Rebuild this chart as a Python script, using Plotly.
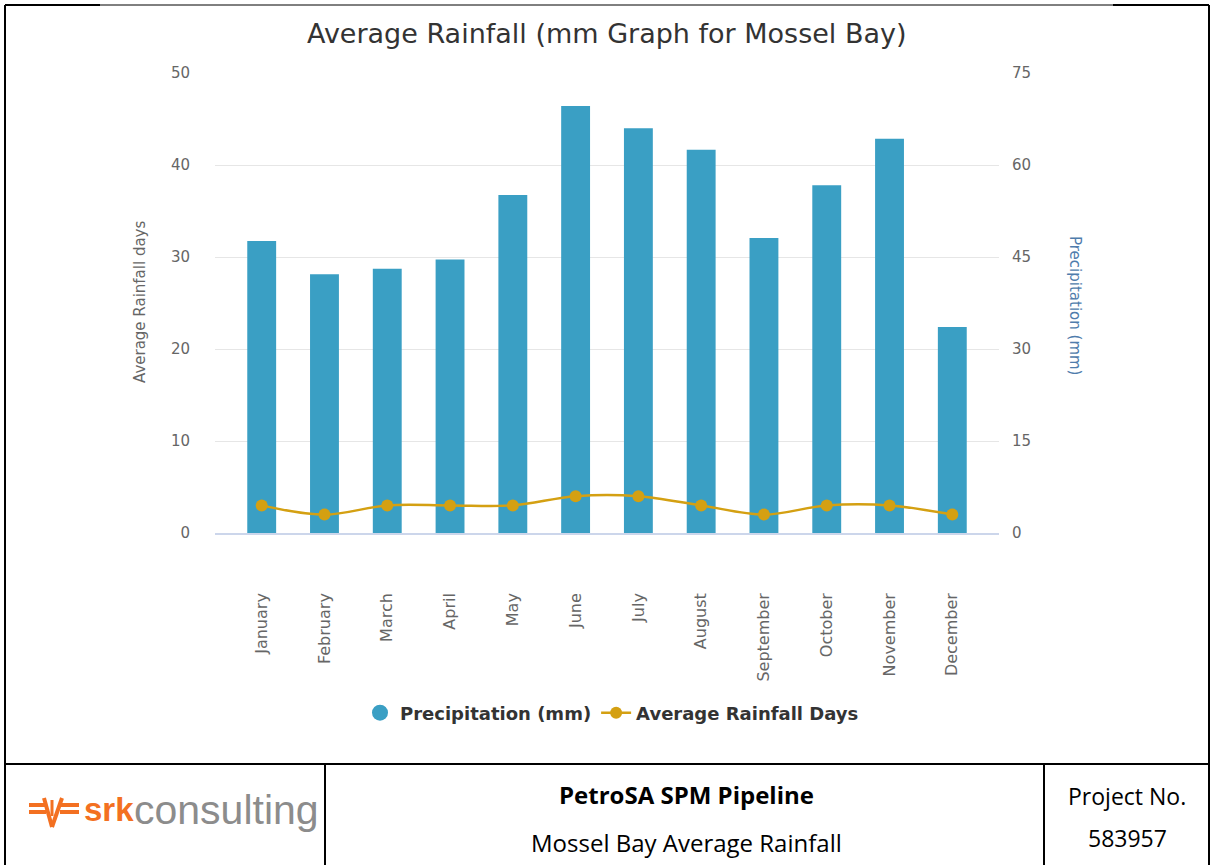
import plotly.graph_objects as go

# Monthly climate values for Mossel Bay
months = ["January", "February", "March", "April", "May", "June",
          "July", "August", "September", "October", "November", "December"]
precip_mm = [47.6, 42.2, 43.1, 44.6, 55.1, 69.6, 66.0, 62.5, 48.1, 56.7, 64.3, 33.6]
rain_days = [3, 2, 3, 3, 3, 4, 4, 3, 2, 3, 3, 2]

left_ticks = [0, 10, 20, 30, 40, 50]
right_ticks = [0, 15, 30, 45, 60, 75]

BAR_COLOR = "#3a9fc4"
LINE_COLOR = "#d4a012"
FONT = "DejaVu Sans"
TABLE_FONT = "Open Sans"

# plot-area geometry in page pixels, used to place page furniture
W_PX, H_PX = 1211, 865
L, R, T, B = 215, 999, 73, 533


def px(x):
    return (x - L) / (R - L)


def py(y):
    return (B - y) / (B - T)


fig = go.Figure()

# bars on the primary (right-hand) axis so the day line sits above them
fig.add_trace(go.Bar(
    x=months, y=precip_mm, yaxis="y", name="Precipitation (mm)",
    marker=dict(color=BAR_COLOR, line=dict(width=0)), showlegend=False,
))

# legend entry drawn as a round swatch for the bar series
fig.add_trace(go.Scatter(
    x=[None], y=[None], mode="markers", name="Precipitation (mm)",
    marker=dict(color=BAR_COLOR, size=18, symbol="circle"),
))

fig.add_trace(go.Scatter(
    x=months, y=rain_days, yaxis="y2", name="Average Rainfall Days",
    mode="lines+markers", line=dict(color=LINE_COLOR, width=2.5, shape="spline"),
    marker=dict(color=LINE_COLOR, size=12),
))

shapes = []


def seg(x0, y0, x1, y1, w=2, color="black"):
    shapes.append(dict(type="line", xref="paper", yref="paper",
                       x0=px(x0), y0=py(y0), x1=px(x1), y1=py(y1),
                       line=dict(color=color, width=w)))


# page frame and title-block table
seg(5, 5, 5, 866, 2)
seg(1209, 5, 1209, 866, 2)
seg(5, 5, 100, 5, 2)
seg(100, 5, 1113, 5, 1)
seg(1113, 5, 1209, 5, 2)
seg(5, 764, 1209, 764, 2)
seg(325, 764, 325, 866, 2)
seg(1044, 764, 1044, 866, 2)

# srk logo mark
ORANGE = "#f37021"
seg(29, 805, 46, 805, 4, ORANGE)
seg(29, 812, 46, 812, 4, ORANGE)
seg(60, 805, 79, 805, 4, ORANGE)
seg(60, 812, 79, 812, 4, ORANGE)
seg(44, 798, 52, 827, 4, ORANGE)
seg(52, 827, 62, 798, 4, ORANGE)
seg(52, 800, 52, 816, 3, ORANGE)

annotations = [
    dict(text="Average Rainfall (mm Graph for Mossel Bay)", x=px(606), y=py(33),
         font=dict(family=FONT, size=27, color="#333333")),
    dict(text="Average Rainfall days", x=px(140), y=py(302), textangle=-90,
         font=dict(family=FONT, size=15, color="#666666")),
    dict(text="Precipitation (mm)", x=px(1075), y=py(305), textangle=90,
         font=dict(family=FONT, size=15, color="#4f7cac")),
    dict(text="<b>srk</b>", x=px(82), y=py(809), xanchor="left",
         font=dict(family="Liberation Sans", size=33, color=ORANGE)),
    dict(text="consulting", x=px(132), y=py(810), xanchor="left",
         font=dict(family="Liberation Sans", size=41, color="#8c8c8c")),
    dict(text="<b>PetroSA SPM Pipeline</b>", x=px(686), y=py(794),
         font=dict(family=TABLE_FONT, size=24, color="black")),
    dict(text="Mossel Bay Average Rainfall", x=px(686), y=py(842),
         font=dict(family=TABLE_FONT, size=24, color="black")),
    dict(text="Project No.", x=px(1127), y=py(796),
         font=dict(family=TABLE_FONT, size=23, color="black")),
    dict(text="583957", x=px(1127), y=py(838),
         font=dict(family=TABLE_FONT, size=23, color="black")),
]
for a in annotations:
    a.update(xref="paper", yref="paper", showarrow=False)
    a.setdefault("xanchor", "center")
    a.setdefault("yanchor", "middle")

fig.update_layout(
    width=W_PX, height=H_PX,
    margin=dict(l=L, r=W_PX - R, t=T, b=H_PX - B, pad=0),
    paper_bgcolor="white", plot_bgcolor="white",
    bargap=0.54,
    xaxis=dict(
        tickangle=-90, tickfont=dict(family=FONT, size=16, color="#666666"),
        showgrid=False, showline=True, linecolor="#ccd6eb", linewidth=1.5,
        ticks="", ticklabelstandoff=52,
    ),
    yaxis=dict(
        range=[0, 75], tickvals=right_ticks, side="right",
        showgrid=True, gridcolor="#e6e6e6", zeroline=False,
        tickfont=dict(family=FONT, size=15, color="#666666"),
        ticklabelstandoff=12,
    ),
    yaxis2=dict(
        range=[0, 50], tickvals=left_ticks, overlaying="y", side="left",
        showgrid=False, zeroline=False,
        tickfont=dict(family=FONT, size=15, color="#666666"),
        ticklabelstandoff=24,
    ),
    legend=dict(
        orientation="h", x=px(612), xanchor="center", y=py(713), yanchor="middle",
        font=dict(family=FONT, size=18, color="#333333", weight="bold"),
        bgcolor="rgba(0,0,0,0)",
    ),
    shapes=shapes,
    annotations=annotations,
)

fig.write_html("out.html")
